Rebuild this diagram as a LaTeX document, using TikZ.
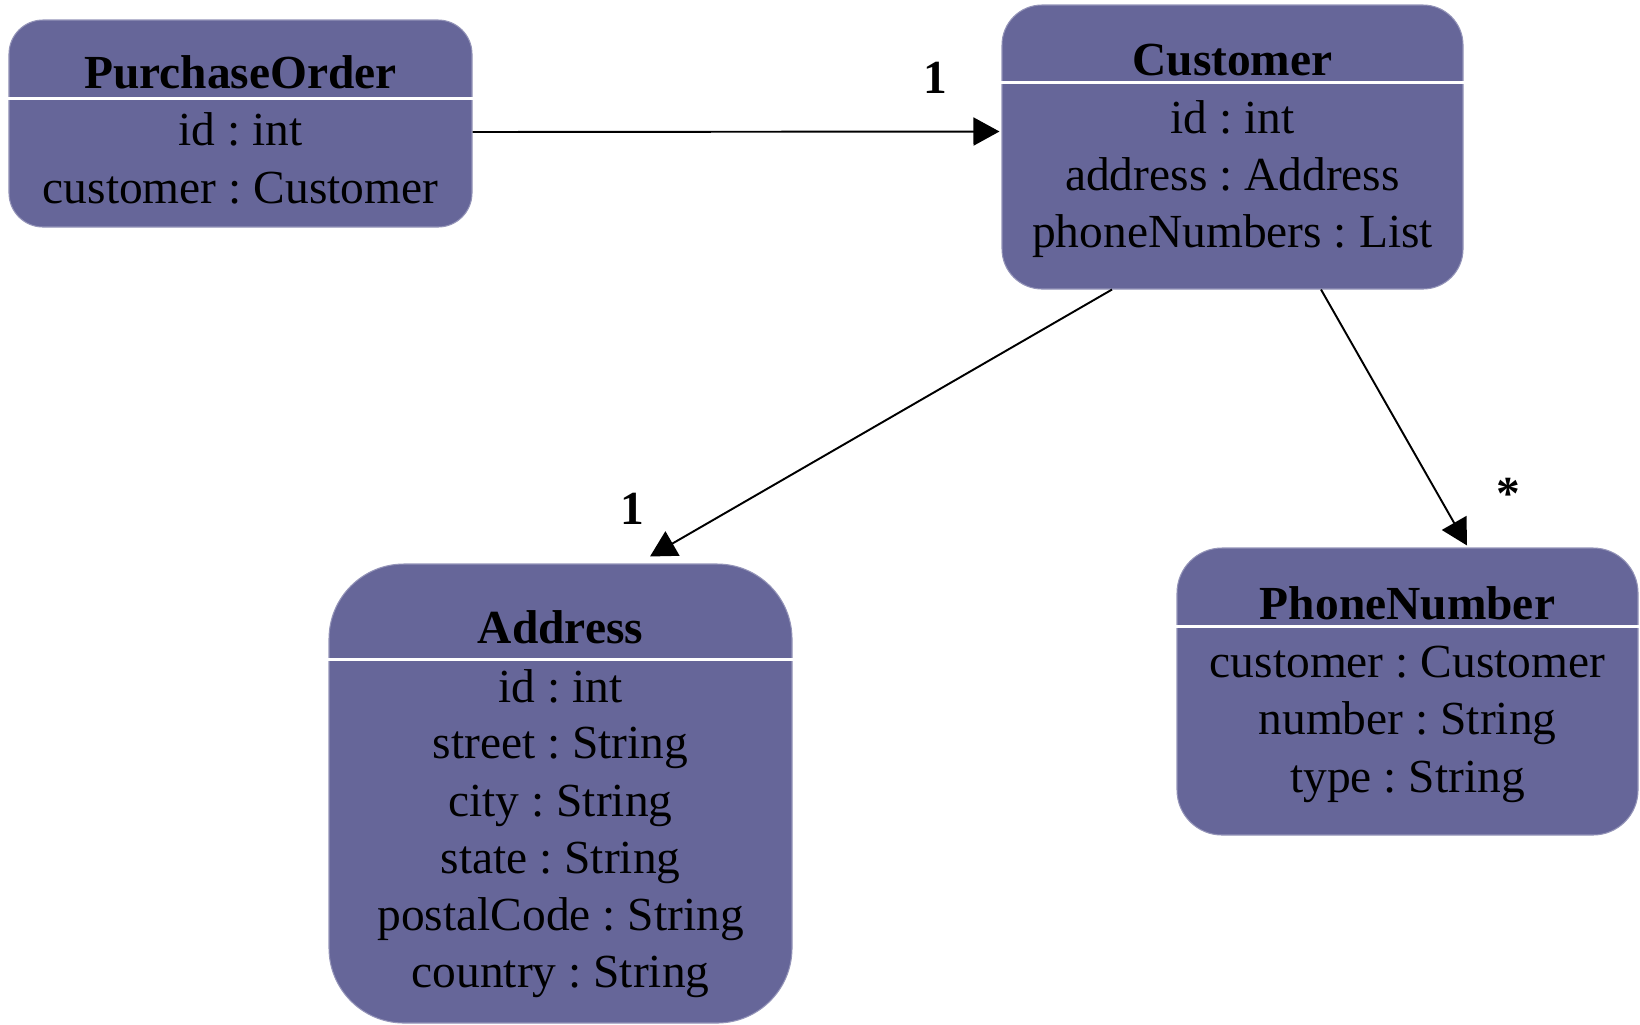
\documentclass[tikz,border=0pt]{standalone}
\usepackage{xcolor}
\usepackage{fontspec}
\setmainfont{Liberation Serif}
\usepackage{tikz}
\usetikzlibrary{shapes,arrows.meta}
\frenchspacing

\definecolor{umlfill}{RGB}{102,102,153}

\begin{document}
\begin{tikzpicture}
\tikzstyle{cls}=[rectangle,fill=umlfill,draw=umlfill!70!white,line width=0.3pt,inner sep=0pt];
\tikzstyle{sep}=[white,line width=0.6pt];
\tikzstyle{txt}=[anchor=base,inner sep=0pt,font=\fontsize{13.5pt}{16pt}\selectfont];
\tikzstyle{ttl}=[txt,font=\fontsize{13.5pt}{16pt}\selectfont\bfseries];
\tikzstyle{mult}=[ttl];
\tikzstyle{assoc}=[line width=0.55pt,-{Triangle[length=2.6mm,width=2.8mm]}];

\useasboundingbox (0,0) rectangle (16.4,-10.24);

% class boxes
\node[cls,minimum width=4.63cm,minimum height=2.07cm,rounded corners=0.34cm] (po) at (2.405,-1.235) {};
\node[cls,minimum width=4.61cm,minimum height=2.84cm,rounded corners=0.4cm] (cust) at (12.325,-1.47) {};
\node[cls,minimum width=4.63cm,minimum height=4.59cm,rounded corners=0.75cm] (addr) at (5.605,-7.935) {};
\node[cls,minimum width=4.61cm,minimum height=2.87cm,rounded corners=0.45cm] (phone) at (14.075,-6.915) {};

% compartment lines
\draw[sep] ([yshift=-0.79cm]po.north west) -- ([yshift=-0.79cm]po.north east);
\draw[sep] ([yshift=-0.78cm]cust.north west) -- ([yshift=-0.78cm]cust.north east);
\draw[sep] ([yshift=-0.96cm]addr.north west) -- ([yshift=-0.96cm]addr.north east);
\draw[sep] ([yshift=-0.79cm]phone.north west) -- ([yshift=-0.79cm]phone.north east);

% PurchaseOrder
\node[ttl] (poT) at (2.405,-0.88) {PurchaseOrder};
\node[txt] (poA1) at (2.405,-1.45) {id : int};
\node[txt] (poA2) at (2.405,-2.03) {customer : Customer};

% Customer
\node[ttl] (custT) at (12.325,-0.75) {Customer};
\node[txt] (custA1) at (12.325,-1.33) {id : int};
\node[txt] (custA2) at (12.325,-1.90) {address : Address};
\node[txt] (custA3) at (12.325,-2.47) {phoneNumbers : List};

% Address
\node[ttl] (addrT) at (5.605,-6.43) {Address};
\node[txt] (addrA1) at (5.605,-7.02) {id : int};
\node[txt] (addrA2) at (5.605,-7.58) {street : String};
\node[txt] (addrA3) at (5.605,-8.16) {city : String};
\node[txt] (addrA4) at (5.605,-8.73) {state : String};
\node[txt] (addrA5) at (5.605,-9.30) {postalCode : String};
\node[txt] (addrA6) at (5.605,-9.87) {country : String};

% PhoneNumber
\node[ttl] (phoneT) at (14.075,-6.19) {PhoneNumber};
\node[txt] (phoneA1) at (14.075,-6.77) {customer : Customer};
\node[txt] (phoneA2) at (14.075,-7.34) {number : String};
\node[txt] (phoneA3) at (14.075,-7.92) {type : String};

% associations
\draw[assoc] ([yshift=-0.085cm]po.east) -- ([xshift=-0.02cm,yshift=0.155cm]cust.west);
\draw[assoc] ([xshift=-1.205cm]cust.south) -- ([xshift=0.895cm,yshift=0.07cm]addr.north);
\draw[assoc] ([xshift=0.885cm]cust.south) -- ([xshift=0.595cm,yshift=0.02cm]phone.north);

\node[mult] (mCust) at (9.35,-0.93) {1};
\node[mult] (mAddr) at (6.32,-5.24) {1};
\node[mult] (mPhone) at (15.08,-5.09) {*};
\end{tikzpicture}
\end{document}
